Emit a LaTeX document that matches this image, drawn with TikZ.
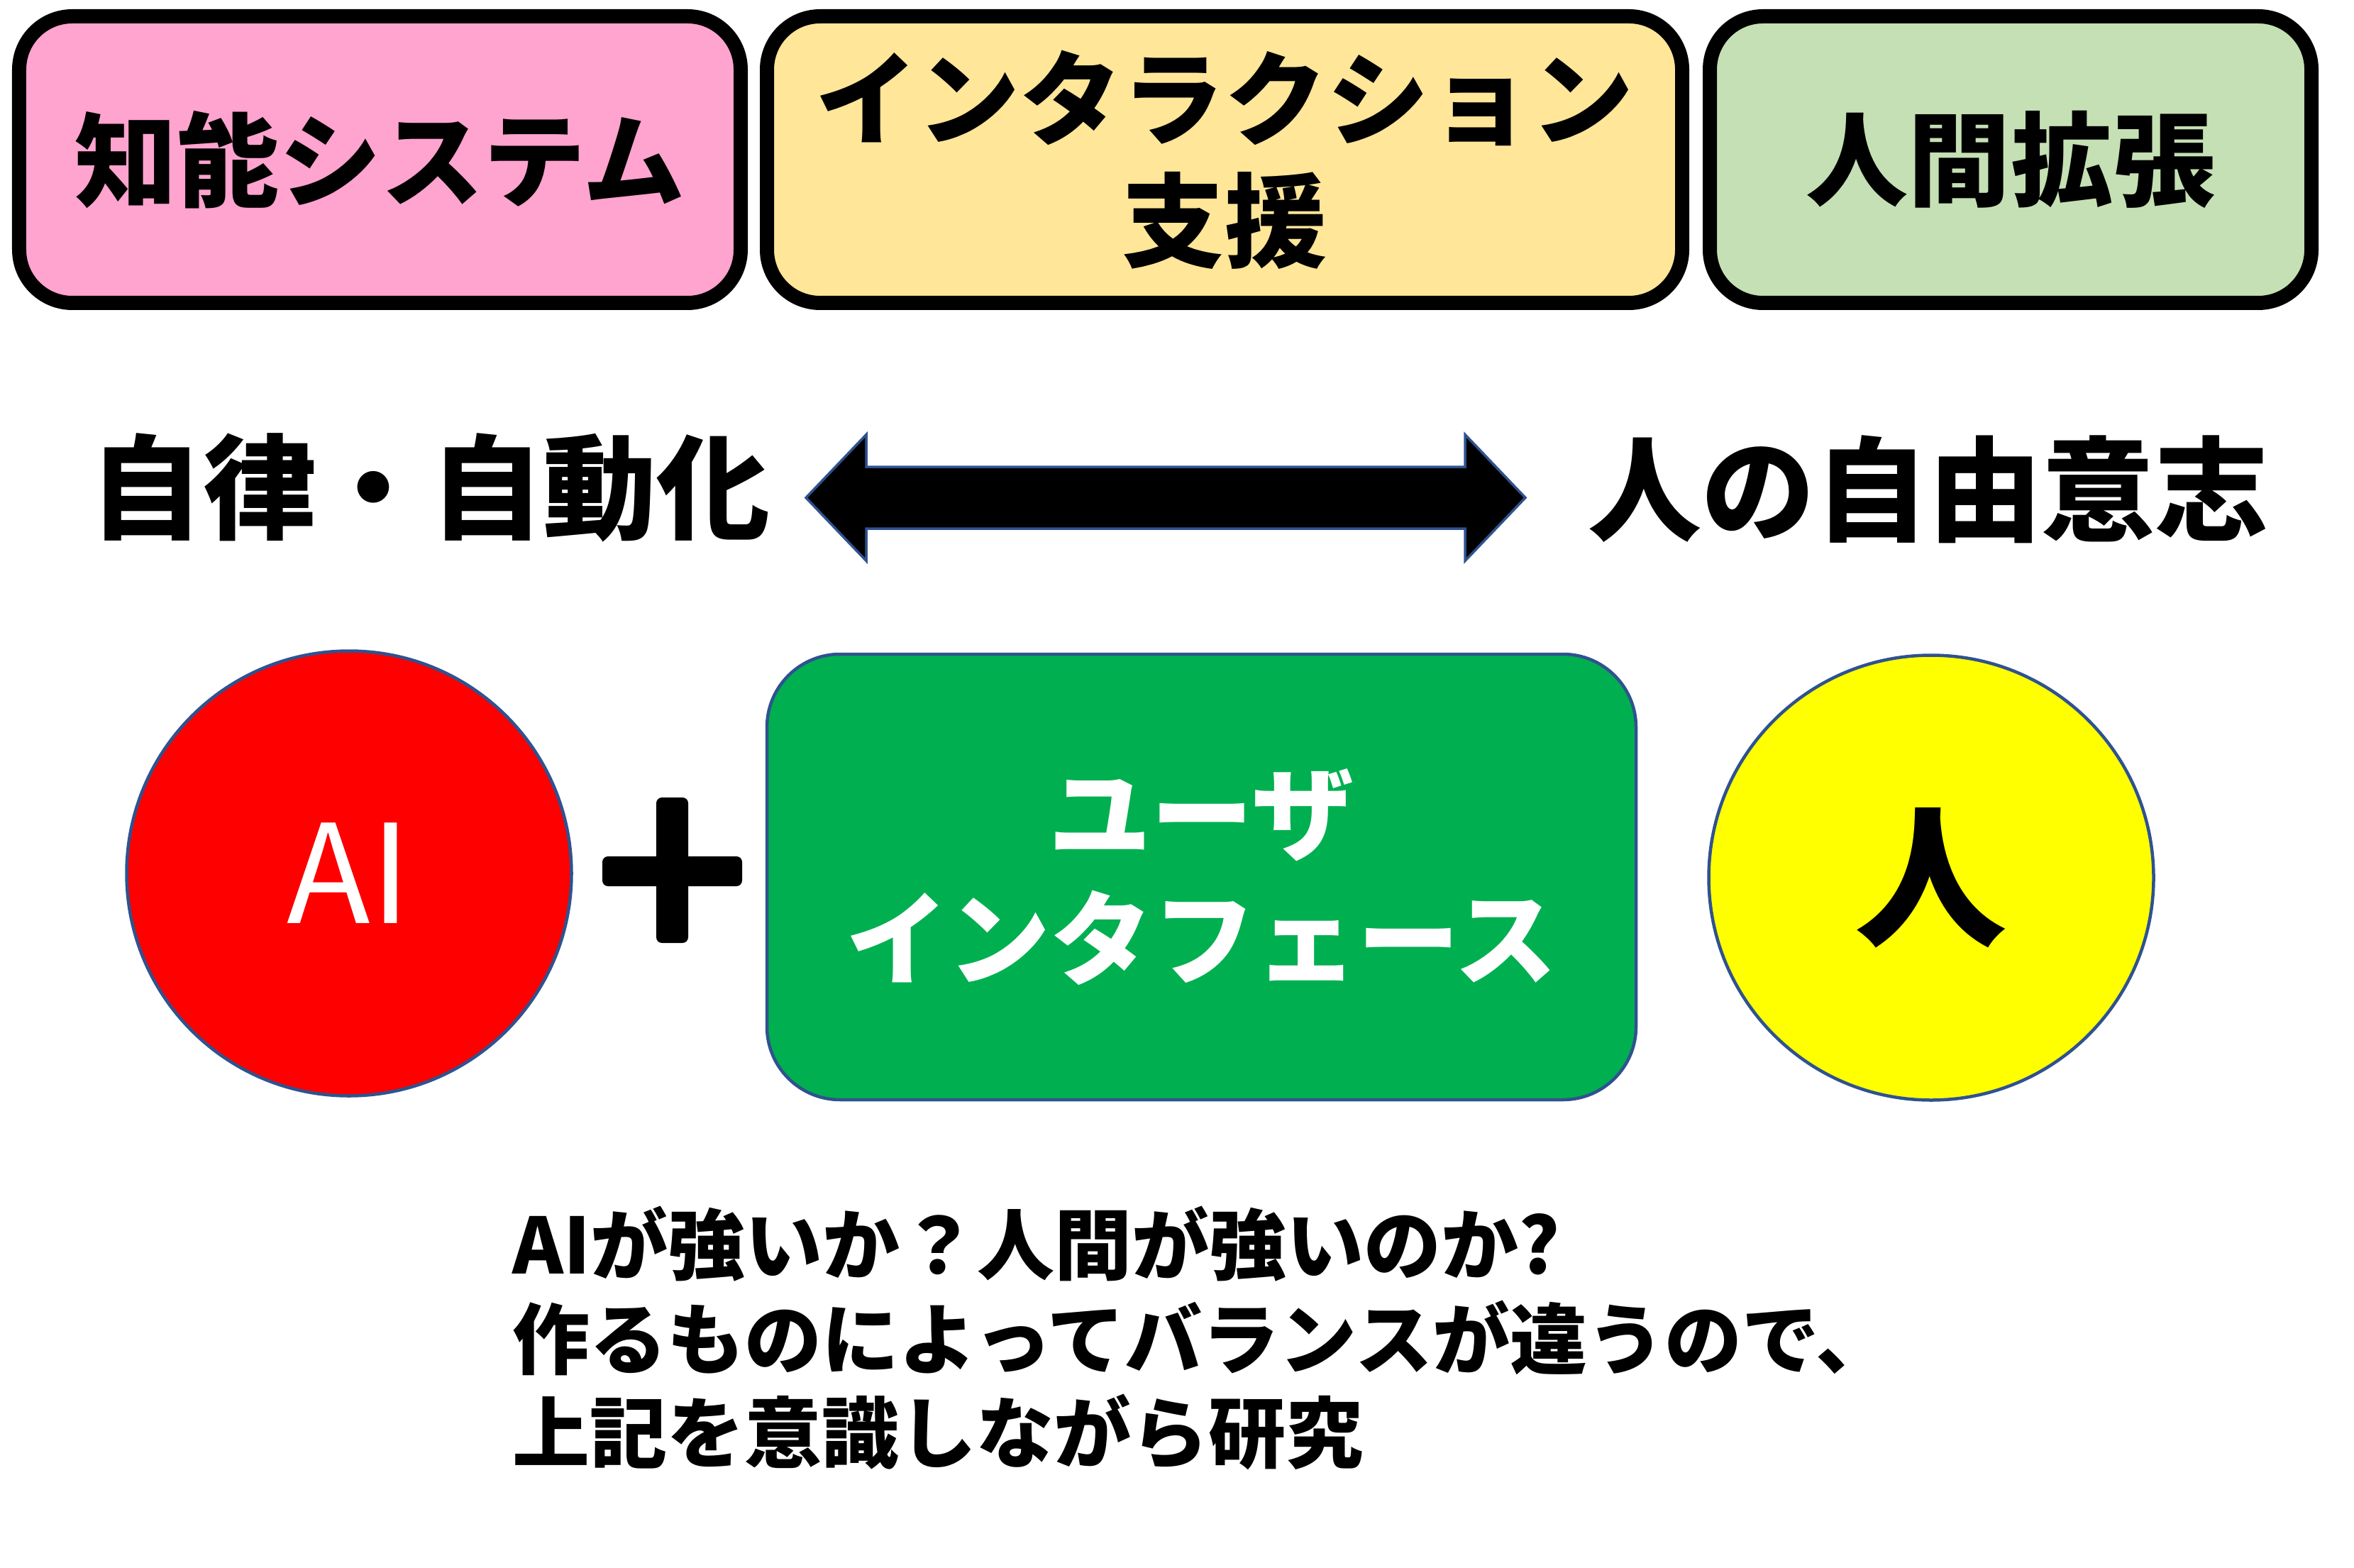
\documentclass[tikz,border=0pt]{standalone}
\usepackage{fontspec}
\setmainfont{Noto Sans CJK JP}
\usepackage{tikz}
\definecolor{pinkfill}{HTML}{FFA3CF}
\definecolor{creamfill}{HTML}{FFE699}
\definecolor{sagefill}{HTML}{C5E0B4}
\definecolor{uigreen}{HTML}{00B050}
\definecolor{humanyellow}{HTML}{FFFF00}
\definecolor{edgeblue}{HTML}{2F528F}
\tikzstyle{box_top} = [draw, line width=0.2cm, rounded corners=0.75cm, minimum height=4.04cm, inner sep=0pt, align=center, font=\bfseries\fontsize{41pt}{49pt}\selectfont]
\tikzstyle{word_big} = [inner sep=0pt, font=\bfseries\fontsize{45.5pt}{50pt}\selectfont]
\tikzstyle{node_round} = [circle, draw=edgeblue, line width=0.045cm, inner sep=0pt, minimum size=6.27cm]
\tikzstyle{arrow_fat} = [fill=black, draw=edgeblue, line width=0.035cm]

\begin{document}
\begin{tikzpicture}
		\useasboundingbox (0,0) rectangle (33.18,-22.09);
		\def\ytop{-2.25}
		\node (K) at (5.355,\ytop) [box_top, fill=pinkfill, minimum width=10.17cm] {知能システム};
		\node (I) at (17.26,\ytop) [box_top, fill=creamfill, minimum width=12.90cm] {インタラクション\\支援};
		\node (H) at (28.34,\ytop) [box_top, fill=sagefill, minimum width=8.48cm] {人間拡張};
		
		\node (auto) at (6.06,-6.87) [word_big] {自律・自動化};
		\node (free) at (27.18,-6.90) [word_big] {人の自由意志};
		\coordinate (tipL) at (11.36,-7.015);
		\coordinate (tipR) at (21.50,-7.015);
		\draw[arrow_fat] (tipL) -- ++(0.85,0.89) -- ++(0,-0.455) -- ++(8.44,0) -- ++(0,0.455) -- (tipR) -- ++(-0.85,-0.89) -- ++(0,0.455) -- ++(-8.44,0) -- ++(0,-0.455) -- cycle;
		
		\node (ai) at (4.92,-12.31) [node_round, fill=red, text=white, font=\fontsize{55pt}{60pt}\selectfont] {AI};
		\fill[rounded corners=0.08cm] (9.25,-11.24) rectangle (9.70,-13.29);
		\fill[rounded corners=0.08cm] (8.49,-12.07) rectangle (10.46,-12.49);
		\node (ui) at (16.935,-12.36) [draw=edgeblue, line width=0.045cm, fill=uigreen, rounded corners=1.03cm, minimum width=12.25cm, minimum height=6.28cm, inner sep=0pt, align=center, text=white, font=\bfseries\fontsize{41pt}{50pt}\selectfont] {ユーザ\\インタフェース};
		\node (hito) at (27.22,-12.37) [node_round, fill=humanyellow, font=\bfseries\fontsize{61pt}{66pt}\selectfont] {人};
		
		\node (note) at (7.22,-18.86) [anchor=west, inner sep=0pt, align=left, font=\bfseries\fontsize{31pt}{37.8pt}\selectfont] {AIが強いか？人間が強いのか?\\作るものによってバランスが違うので、\\上記を意識しながら研究};
		\end{tikzpicture}
\end{document}
